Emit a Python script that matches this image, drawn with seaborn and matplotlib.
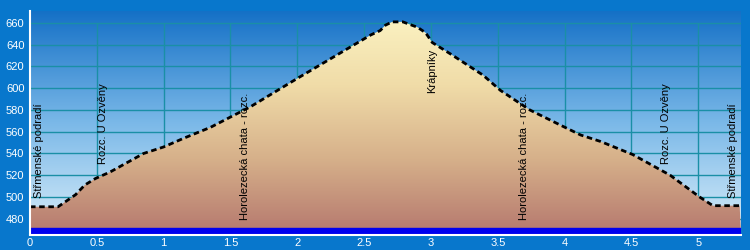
import numpy as np
import seaborn as sns
import matplotlib.pyplot as plt
from matplotlib.colors import LinearSegmentedColormap
from matplotlib.patches import Polygon

# elevation profile (distance in km, elevation in m)
dist_km = [0.00, 0.21, 0.34, 0.41, 0.49, 0.60, 0.85, 1.00, 1.15, 1.35, 1.65, 2.00,
           2.55, 2.62, 2.66, 2.71, 2.79, 2.90, 2.96, 3.01, 3.14, 3.39, 3.52, 3.74,
           3.97, 4.12, 4.27, 4.51, 4.79, 5.01, 5.11, 5.31]
elev_m = [491, 491, 502, 511, 517, 523, 540, 546, 554, 564, 583, 609,
          649, 653, 658, 661, 661, 656, 651, 642, 632, 612, 598, 580,
          566, 557, 551, 539, 520, 500, 492, 492]

# waypoints along the route
waypoint_names = ["Střmenské podradí", "Rozc. U Ozvěny", "Horolezecká chata - rozc.",
                  "Krápníky", "Horolezecká chata - rozc.", "Rozc. U Ozvěny",
                  "Střmenské podradí"]
waypoint_km = [0.03, 0.51, 1.57, 2.97, 3.66, 4.72, 5.22]

x_ticks = [0, 0.5, 1, 1.5, 2, 2.5, 3, 3.5, 4, 4.5, 5]
y_ticks = [480, 500, 520, 540, 560, 580, 600, 620, 640, 660]

sns.set_style("white")
plt.rcParams['font.family'] = ['Liberation Sans', 'DejaVu Sans']

fig = plt.figure(figsize=(7.5, 2.5), dpi=100, facecolor='#0877cc')
ax = fig.add_axes([0.04, 0.062, 0.948, 0.894])
ax.set_facecolor('#0877cc')

xmax = 5.32
ymin, ymax = 465.5, 671

# sky gradient
sky = LinearSegmentedColormap.from_list('sky', ['#d8edf9', '#7ab8e8', '#1470c6'])
grad = np.linspace(0, 1, 256).reshape(-1, 1)
ax.imshow(grad, cmap=sky, aspect='auto', extent=(0, xmax, ymin, ymax),
          origin='lower', zorder=0)

# grid
ax.vlines(x_ticks[1:], ymin, 660, color='#1a8fa6', lw=1, zorder=1)
ax.hlines(y_ticks, 0, xmax, color='#1a8fa6', lw=1, zorder=1)

# terrain gradient clipped to profile
ground = LinearSegmentedColormap.from_list('ground', ['#b5786e', '#d6b08a', '#f0dca8', '#fcf4c4'])
verts = [(0, ymin)] + list(zip(dist_km, elev_m)) + [(xmax, ymin)]
poly = Polygon(verts, closed=True, transform=ax.transData, facecolor='none', edgecolor='none')
ax.add_patch(poly)
img = ax.imshow(grad, cmap=ground, aspect='auto', extent=(0, xmax, ymin, ymax),
                origin='lower', zorder=2)
img.set_clip_path(poly)

# profile outline
sns.lineplot(x=dist_km, y=elev_m, ax=ax, color='black', lw=2,
             linestyle=(0, (2, 1.3)), zorder=3)

# blue band at the bottom
ax.axhspan(ymin, 471.5, color='#0000ee', zorder=4)

# waypoint labels
label_base = [499, 530, 479, 596, 479, 530, 499]
for name, km, base in zip(waypoint_names, waypoint_km, label_base):
    ax.text(km, base, name, rotation=90, ha='left', va='bottom',
            fontsize=8, color='black', zorder=5)

ax.set_xlim(0, xmax)
ax.set_ylim(ymin, ymax)
ax.set_xticks(x_ticks)
ax.set_xticklabels([f"{t:g}" for t in x_ticks])
ax.set_yticks(y_ticks)
ax.tick_params(colors='white', labelcolor='white', labelsize=8, length=3,
               width=1, direction='out', pad=1)
ax.tick_params(axis='x', length=2, pad=0.5)
for s in ['top', 'right']:
    ax.spines[s].set_visible(False)
for s in ['left', 'bottom']:
    ax.spines[s].set_color('white')
    ax.spines[s].set_linewidth(1.5)
    ax.spines[s].set_zorder(6)
ax.set_xlabel('')
ax.set_ylabel('')

fig.savefig('out.png', dpi=100, facecolor=fig.get_facecolor())
